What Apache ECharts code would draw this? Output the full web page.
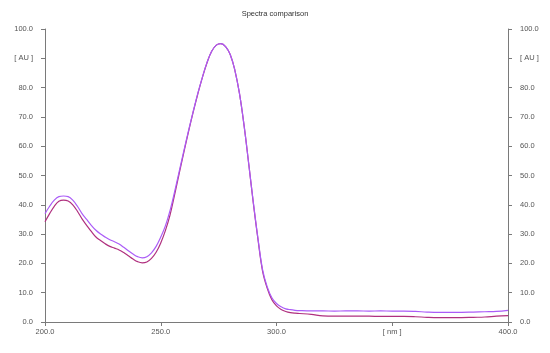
<!DOCTYPE html>
<html>
<head>
<meta charset="utf-8">
<script src="https://cdn.jsdelivr.net/npm/echarts@6/dist/echarts.min.js"></script>
<style>html,body{margin:0;padding:0;background:#fff}#c{width:550px;height:353px}</style>
</head>
<body>
<div id="c"></div>
<script>
var titleText = 'Spectra comparison';
var wavelengths = [200,202,204,206,208,210,212,214,216,218,220,222,224,226,228,230,232,234,236,238,240,242,244,246,248,250,252,254,256,258,260,262,264,266,268,270,272,274,276,278,280,282,284,286,288,290,292,294,296,298,300,302,304,306,308,310,315,320,325,330,335,340,345,350,355,360,365,370,375,380,385,390,395,400];
var violetValues = [37.0,39.5,41.6,42.8,43.0,42.8,41.6,39.5,37.0,35.0,33.0,31.3,30.0,29.0,28.1,27.4,26.6,25.5,24.3,23.2,22.3,21.9,22.3,23.6,25.8,29.0,32.8,38.0,44.5,51.5,58.5,65.3,71.8,78.0,83.6,88.6,92.4,94.5,95.0,94.0,91.3,86.0,78.0,67.0,54.0,40.8,28.5,17.8,12.0,8.3,6.3,5.2,4.5,4.2,4.0,3.9,3.8,3.8,3.7,3.8,3.8,3.7,3.8,3.7,3.7,3.6,3.4,3.3,3.3,3.3,3.4,3.5,3.6,4.0];
var pinkValues = [34.2,37.0,39.5,41.2,41.6,41.3,40.0,37.8,35.2,33.0,30.9,29.0,27.8,26.7,25.8,25.2,24.6,23.7,22.6,21.5,20.6,20.2,20.5,21.7,23.8,27.0,31.2,36.5,43.5,50.8,58.0,65.0,71.6,77.8,83.5,88.5,92.4,94.5,95.0,94.0,91.3,86.0,78.0,67.0,54.0,40.5,28.2,17.3,11.5,7.6,5.5,4.3,3.6,3.2,3.0,2.9,2.6,2.1,2.0,2.0,2.0,2.0,1.9,1.9,1.9,1.8,1.6,1.5,1.5,1.5,1.6,1.7,2.0,2.2];
var xTickValues = [200,250,300,350,400];
var xTickLabels = ['200.0','250.0','300.0','[ nm ]','400.0'];
var yTickValues = [0,10,20,30,40,50,60,70,80,90,100];
var yTickLabels = ['0.0','10.0','20.0','30.0','40.0','50.0','60.0','70.0','80.0','[ AU ]','100.0'];

function pairs(xs, ys){ return xs.map(function(x,i){ return [x, ys[i]]; }); }
function xFmt(v){ var i = xTickValues.indexOf(v); return i >= 0 ? xTickLabels[i] : ''; }
function yFmt(v){ var i = yTickValues.indexOf(v); return i >= 0 ? yTickLabels[i] : ''; }

var axisColor = '#7a7a7a';
var labelStyle = {color:'#555', fontSize:7.5, fontFamily:'Liberation Sans, Arial, sans-serif'};
var chart = echarts.init(document.getElementById('c'), null, {renderer:'canvas'});
chart.setOption({
  animation:false,
  backgroundColor:'#fff',
  title:{text:titleText, left:'center', top:5, textStyle:{fontSize:7.5, fontWeight:'normal', color:'#333', fontFamily:'Liberation Sans, Arial, sans-serif'}},
  grid:{left:45, right:42, top:29, bottom:31, containLabel:false},
  xAxis:[
    {type:'value', position:'bottom', min:200, max:400, interval:50,
     axisLine:{lineStyle:{color:axisColor, width:1}},
     axisTick:{show:true, length:4, lineStyle:{color:axisColor}},
     axisLabel:Object.assign({formatter:xFmt, margin:6}, labelStyle),
     splitLine:{show:false}},
    {type:'value', position:'top', min:200, max:400, interval:50,
     axisLine:{lineStyle:{color:axisColor, width:1}},
     axisTick:{show:true, inside:true, length:3, lineStyle:{color:axisColor}},
     axisLabel:{show:false}, splitLine:{show:false}}
  ],
  yAxis:[
    {type:'value', position:'left', min:0, max:100, interval:10,
     axisLine:{show:true, lineStyle:{color:axisColor, width:1}},
     axisTick:{show:true, length:4, lineStyle:{color:axisColor}},
     axisLabel:Object.assign({formatter:yFmt, margin:12}, labelStyle),
     splitLine:{show:false}},
    {type:'value', position:'right', min:0, max:100, interval:10,
     axisLine:{show:true, lineStyle:{color:axisColor, width:1}},
     axisTick:{show:true, length:4, lineStyle:{color:axisColor}},
     axisLabel:Object.assign({formatter:yFmt, margin:12}, labelStyle),
     splitLine:{show:false}}
  ],
  series:[
    {name:'B', type:'line', data:pairs(wavelengths, pinkValues), xAxisIndex:0, yAxisIndex:0,
     showSymbol:false, smooth:0.4, lineStyle:{color:'#b0307f', width:1.2}, z:2},
    {name:'A', type:'line', data:pairs(wavelengths, violetValues), xAxisIndex:0, yAxisIndex:0,
     showSymbol:false, smooth:0.4, lineStyle:{color:'#ab5cf7', width:1.2}, z:3}
  ]
});
</script>
</body>
</html>
